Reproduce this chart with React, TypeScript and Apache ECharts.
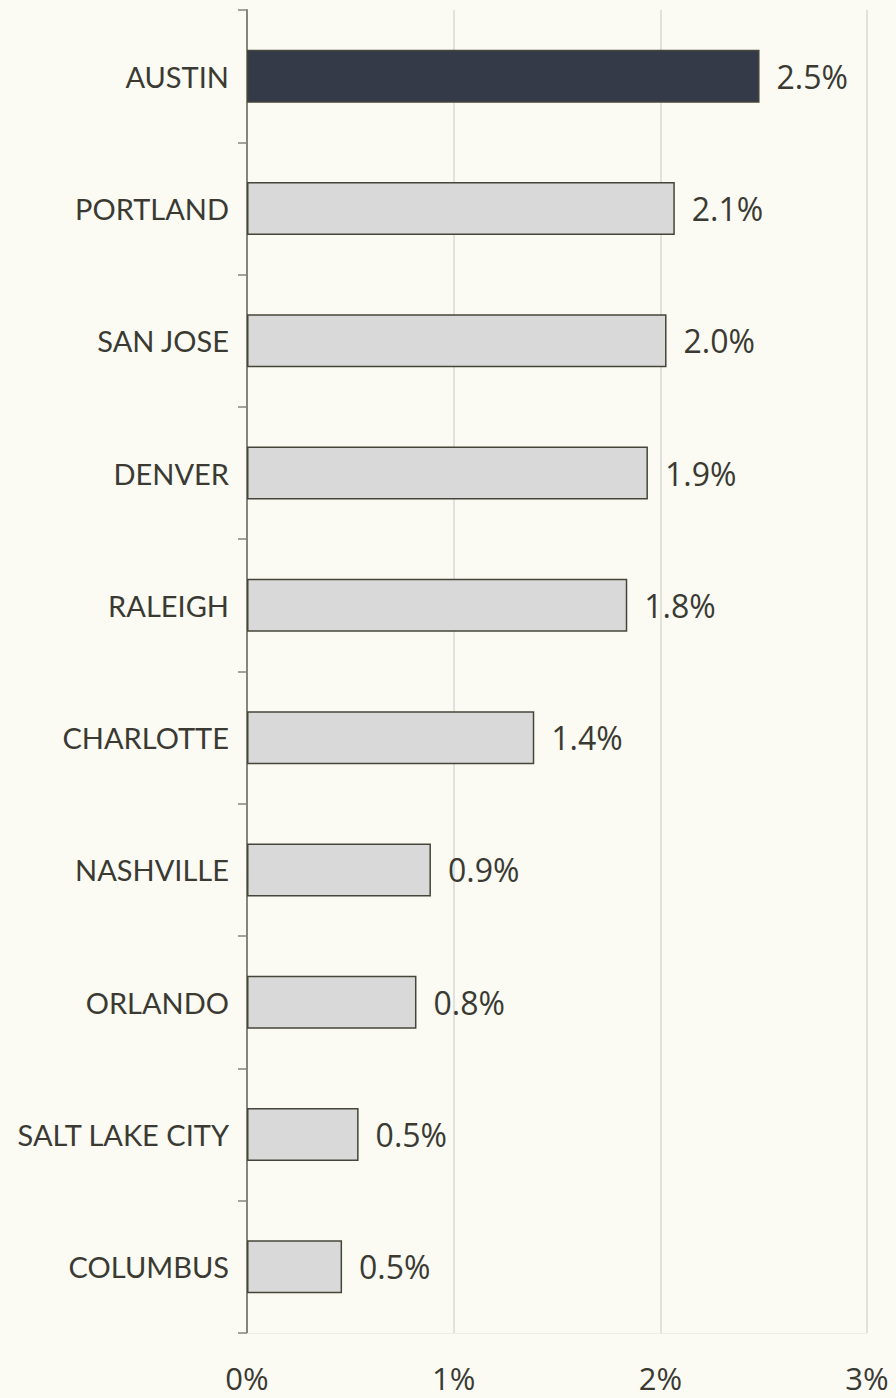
import React, { useEffect, useRef } from "react";
import * as echarts from "echarts";

const cities = ["AUSTIN", "PORTLAND", "SAN JOSE", "DENVER", "RALEIGH", "CHARLOTTE", "NASHVILLE", "ORLANDO", "SALT LAKE CITY", "COLUMBUS"];
const values = [2.48, 2.07, 2.03, 1.94, 1.84, 1.39, 0.89, 0.82, 0.54, 0.46];
const labels = ["2.5%", "2.1%", "2.0%", "1.9%", "1.8%", "1.4%", "0.9%", "0.8%", "0.5%", "0.5%"];
const xTicks = [0, 1, 2, 3];

export default function App() {
  const ref = useRef<HTMLDivElement>(null);
  useEffect(() => {
    document.body.style.margin = "0";
    const chart = echarts.init(ref.current!, null, { renderer: "svg" });
    chart.setOption({
      animation: false,
      backgroundColor: "#FBFBF3",
      grid: { left: 247, right: 29, top: 10, bottom: 65, containLabel: false },
      xAxis: {
        type: "value",
        min: xTicks[0],
        max: xTicks[xTicks.length - 1],
        interval: 1,
        axisLine: { show: true, lineStyle: { color: "#EDEDE3", width: 1 } },
        axisTick: { show: false },
        splitLine: { show: true, lineStyle: { color: "#D9D9D6", width: 1.5 } },
        axisLabel: {
          formatter: (v: number) => `${v}%`,
          fontFamily: "Open Sans",
          fontSize: 31,
          lineHeight: 30,
          color: "#3A3A33",
          margin: 30,
        },
      },
      yAxis: {
        type: "category",
        data: cities,
        inverse: true,
        axisLine: { show: true, lineStyle: { color: "#85857A", width: 2 } },
        axisTick: { show: true, length: 9, lineStyle: { color: "#85857A", width: 1.5 } },
        axisLabel: {
          fontFamily: "Lato",
          fontSize: 29,
          color: "#3A3A33",
          margin: 18,
        },
      },
      series: [
        {
          type: "bar",
          barWidth: 53,
          data: values.map((v, i) => ({
            value: v,
            itemStyle: {
              color: i === 0 ? "#343A48" : "#D9D9D9",
              borderColor: "#45453A",
              borderWidth: 1.5,
            },
          })),
          label: {
            show: true,
            position: "right",
            distance: 17,
            formatter: (p: any) => labels[p.dataIndex],
            fontFamily: "Open Sans",
            fontSize: 32,
            color: "#3A3A33",
          },
        },
      ],
    });
    return () => chart.dispose();
  }, []);
  return <div ref={ref} style={{ width: 896, height: 1398 }} />;
}
